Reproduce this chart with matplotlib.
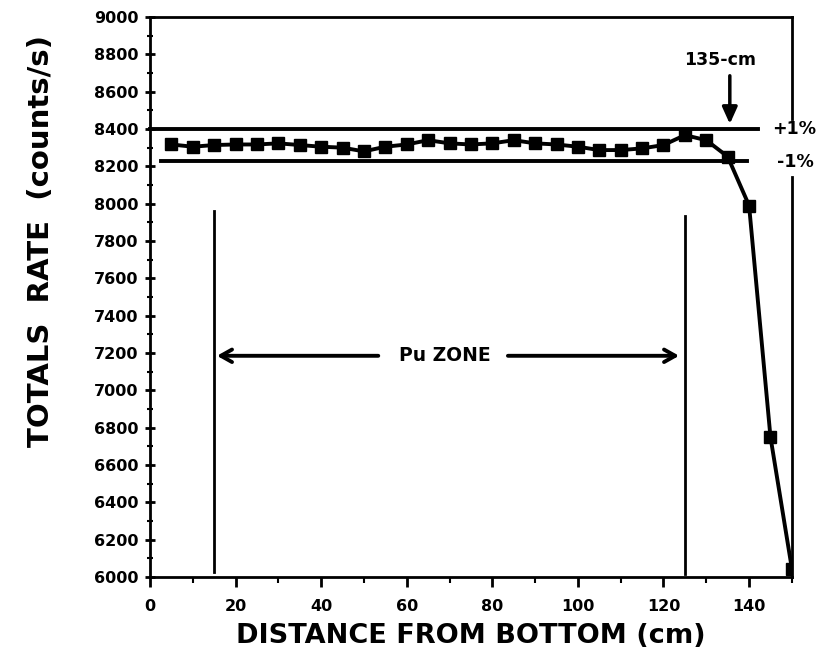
"""
Totals rate vs distance from bottom (Pu zone scan), redrawn from a scanned figure.
"""
import matplotlib
matplotlib.use('Agg')
import matplotlib.pyplot as plt
from matplotlib.ticker import MultipleLocator

# ── Data ──────────────────────────────────────────────────────────────────────
distance = [5, 10, 15, 20, 25, 30, 35, 40, 45, 50, 55, 60, 65, 70, 75,
            80, 85, 90, 95, 100, 105, 110, 115, 120, 125, 130, 135, 140, 145, 150]
rate = [8317, 8305, 8314, 8317, 8317, 8323, 8314, 8305, 8300, 8280, 8305, 8317, 8340, 8323, 8317,
        8323, 8340, 8323, 8317, 8305, 8287, 8287, 8296, 8314, 8367, 8340, 8252, 7990, 6750, 6045]

band_hi = 8400          # +1 %
band_lo = 8230          # -1 %
zone_start, zone_end = 15, 125
cut_x = 135.5
yticks = list(range(6000, 9001, 200))
xticks = list(range(0, 141, 20))

# ── Figure ────────────────────────────────────────────────────────────────────
plt.rcParams['font.family'] = ['DejaVu Sans']
plt.rcParams['font.weight'] = 'bold'

fig = plt.figure(figsize=(8.24, 6.63), dpi=100)
ax = fig.add_axes([0.182, 0.1297, 0.779, 0.8447])

ax.plot(distance, rate, color='black', lw=2.8, marker='s', ms=9, zorder=3)

# +/- 1 % band
ax.plot([0, 142], [band_hi, band_hi], color='black', lw=2.8, clip_on=False)
ax.plot([2.5, 139.5], [band_lo, band_lo], color='black', lw=2.8, clip_on=False)
ax.text(150.6, band_hi, '+1%', fontsize=12.5, fontweight='bold', va='center', ha='center')
ax.text(150.8, band_lo - 5, '-1%', fontsize=12.5, fontweight='bold', va='center', ha='center')

# 135-cm marker
ax.annotate('', xy=(cut_x, band_hi + 12), xytext=(cut_x, 8700),
            arrowprops=dict(arrowstyle='-|>,head_length=1.0,head_width=0.45',
                            color='black', lw=2.5))
ax.text(cut_x - 2.3, 8770, '135-cm', fontsize=12.5, fontweight='bold', ha='center', va='center')

# Pu zone
ax.plot([zone_start, zone_start], [6027, 7960], color='black', lw=2)
ax.plot([zone_end, zone_end], [6018, 7933], color='black', lw=2)
ax.annotate('', xy=(zone_start, 7185), xytext=(54, 7185),
            arrowprops=dict(arrowstyle='->,head_length=0.8,head_width=0.45', color='black', lw=2.8))
ax.annotate('', xy=(zone_end - 0.7, 7185), xytext=(83, 7185),
            arrowprops=dict(arrowstyle='->,head_length=0.8,head_width=0.45', color='black', lw=2.8))
ax.text(68.8, 7185, 'Pu ZONE', fontsize=13.5, fontweight='bold', ha='center', va='center')

# ── Axes ──────────────────────────────────────────────────────────────────────
ax.set_xlim(0, 150)
ax.set_ylim(6000, 9000)
ax.set_xticks(xticks)
ax.set_yticks(yticks)
ax.xaxis.set_minor_locator(MultipleLocator(10))
ax.yaxis.set_minor_locator(MultipleLocator(100))
ax.tick_params(which='major', direction='out', length=7, width=2, labelsize=11.5, pad=5)
ax.tick_params(which='minor', direction='out', length=4, width=1.5)
ax.tick_params(axis='y', which='both', direction='inout')
ax.tick_params(axis='x', which='major', pad=9)
for lbl in ax.get_xticklabels() + ax.get_yticklabels():
    lbl.set_fontweight('bold')

for sp in ('left', 'bottom', 'top'):
    ax.spines[sp].set_linewidth(2)
ax.spines['right'].set_visible(False)
ax.axvline(150, ymin=0, ymax=(8145 - 6000) / 3000, color='black', lw=2, clip_on=False)
ax.axvline(150, ymin=(8456 - 6000) / 3000, ymax=1, color='black', lw=2, clip_on=False)

ax.set_xlabel('DISTANCE FROM BOTTOM (cm)', fontsize=19.5, fontweight='bold', labelpad=6)
ax.set_ylabel('TOTALS  RATE  (counts/s)', fontsize=21, fontweight='bold')
ax.yaxis.set_label_coords(-0.148, 0.6)

plt.savefig('out.png', dpi=100, facecolor='white')
